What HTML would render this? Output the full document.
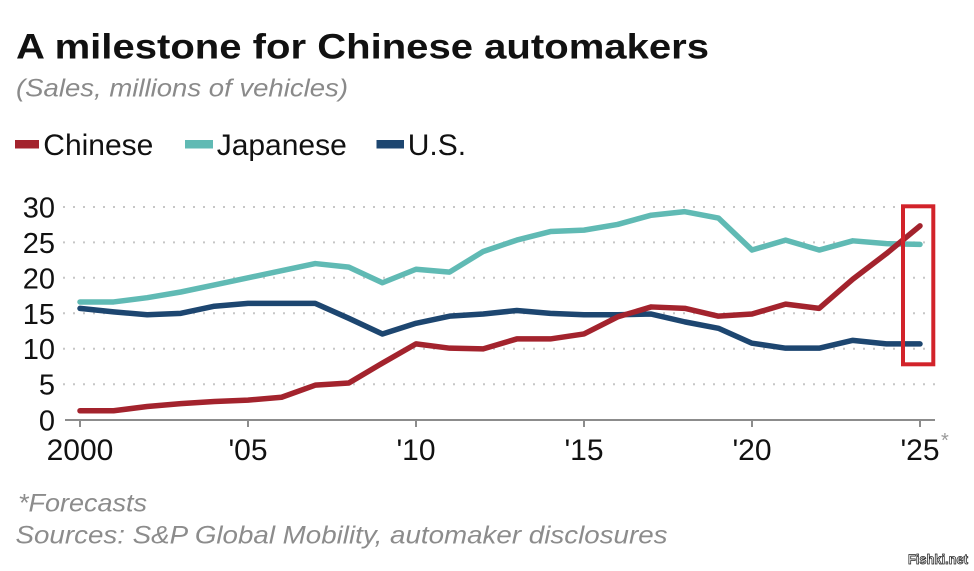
<!DOCTYPE html>
<html>
<head>
<meta charset="utf-8">
<style>
  html, body { margin: 0; padding: 0; background: #ffffff; }
  svg { display: block; }
  text { font-family: "Liberation Sans", Arial, sans-serif; }
</style>
</head>
<body>
<svg width="974" height="571" viewBox="0 0 974 571" xmlns="http://www.w3.org/2000/svg">
  <rect x="0" y="0" width="974" height="571" fill="#ffffff"/>

  <!-- Title -->
  <text x="16" y="58.5" font-size="35" font-weight="bold" fill="#111111" textLength="693" lengthAdjust="spacingAndGlyphs">A milestone for Chinese automakers</text>
  <text x="16" y="96.5" font-size="24.7" font-style="italic" fill="#8a8a8a" textLength="332" lengthAdjust="spacingAndGlyphs">(Sales, millions of vehicles)</text>

  <!-- Legend -->
  <rect x="15" y="140" width="24" height="8.5" fill="#a3232d"/>
  <text x="43.3" y="155" font-size="30" fill="#111111">Chinese</text>
  <rect x="185" y="140" width="28" height="8.5" fill="#60bab4"/>
  <text x="216.7" y="155" font-size="30" fill="#111111">Japanese</text>
  <rect x="376.5" y="140" width="27.5" height="8.5" fill="#1d4670"/>
  <text x="407.7" y="155" font-size="30" fill="#111111">U.S.</text>

  <!-- Gridlines (dotted) -->
  <g stroke="#c6c6c6" stroke-width="2" stroke-dasharray="2 8">
    <line x1="63" y1="207" x2="935" y2="207"/>
    <line x1="63" y1="242.4" x2="935" y2="242.4"/>
    <line x1="63" y1="277.8" x2="935" y2="277.8"/>
    <line x1="63" y1="313.3" x2="935" y2="313.3"/>
    <line x1="63" y1="348.7" x2="935" y2="348.7"/>
    <line x1="63" y1="384.2" x2="935" y2="384.2"/>
  </g>

  <!-- Axis -->
  <line x1="65" y1="420" x2="935" y2="420" stroke="#8c8c8c" stroke-width="2"/>
  <g stroke="#8c8c8c" stroke-width="2">
    <line x1="80" y1="420" x2="80" y2="427"/>
    <line x1="248" y1="420" x2="248" y2="427"/>
    <line x1="416" y1="420" x2="416" y2="427"/>
    <line x1="584" y1="420" x2="584" y2="427"/>
    <line x1="752" y1="420" x2="752" y2="427"/>
    <line x1="920" y1="420" x2="920" y2="427"/>
  </g>

  <!-- Y labels -->
  <g font-size="29" fill="#111111" text-anchor="end">
    <text x="55" y="217.5">30</text>
    <text x="55" y="252.9">25</text>
    <text x="55" y="288.3">20</text>
    <text x="55" y="323.8">15</text>
    <text x="55" y="359.2">10</text>
    <text x="55" y="394.7">5</text>
    <text x="55" y="430.5">0</text>
  </g>

  <!-- X labels -->
  <g font-size="30" fill="#111111" text-anchor="middle">
    <text x="80" y="460">2000</text>
    <text x="248" y="460">'05</text>
    <text x="416" y="460">'10</text>
    <text x="584" y="460">'15</text>
    <text x="752" y="460">'20</text>
    <text x="920" y="460">'25</text>
  </g>
  <text x="941" y="447" font-size="20" fill="#9a9a9a">*</text>

  <!-- Series -->
  <g transform="translate(80,420) scale(33.6,-7.111)" fill="none" stroke-linejoin="round" stroke-linecap="round">
    <polyline vector-effect="non-scaling-stroke" stroke="#60bab4" stroke-width="5.5"
      points="0,16.6 1,16.6 2,17.2 3,18.0 4,19.0 5,20.0 6,21.0 7,22.0 8,21.5 9,19.3 10,21.2 11,20.8 12,23.7 13,25.3 14,26.5 15,26.7 16,27.5 17,28.8 18,29.3 19,28.4 20,23.9 21,25.3 22,23.9 23,25.2 24,24.8 25,24.7"/>
    <polyline vector-effect="non-scaling-stroke" stroke="#1d4670" stroke-width="5.5"
      points="0,15.7 1,15.2 2,14.8 3,15.0 4,16.0 5,16.4 6,16.4 7,16.4 8,14.3 9,12.1 10,13.6 11,14.6 12,14.9 13,15.4 14,15.0 15,14.8 16,14.8 17,14.9 18,13.8 19,12.9 20,10.8 21,10.1 22,10.1 23,11.2 24,10.7 25,10.7"/>
    <polyline vector-effect="non-scaling-stroke" stroke="#a3232d" stroke-width="5.5"
      points="0,1.3 1,1.3 2,1.9 3,2.3 4,2.6 5,2.8 6,3.2 7,4.9 8,5.2 9,8.0 10,10.7 11,10.1 12,10.0 13,11.4 14,11.4 15,12.1 16,14.5 17,15.9 18,15.7 19,14.6 20,14.9 21,16.3 22,15.7 23,19.8 24,23.4 25,27.3"/>
  </g>

  <!-- Highlight box -->
  <rect x="903" y="206.3" width="30.3" height="158" fill="none" stroke="#d2232a" stroke-width="4"/>

  <!-- Footnotes -->
  <text x="18" y="511.7" font-size="24.7" font-style="italic" fill="#8c8c8c" textLength="129" lengthAdjust="spacingAndGlyphs">*Forecasts</text>
  <text x="15.5" y="543.3" font-size="24.7" font-style="italic" fill="#8c8c8c" textLength="652" lengthAdjust="spacingAndGlyphs">Sources: S&amp;P Global Mobility, automaker disclosures</text>

  <!-- Watermark -->
  <text x="908" y="564" font-size="14" font-weight="bold" fill="#ffffff" stroke="#222222" stroke-width="0.8" textLength="60" lengthAdjust="spacingAndGlyphs">Fishki.net</text>
</svg>
</body>
</html>
